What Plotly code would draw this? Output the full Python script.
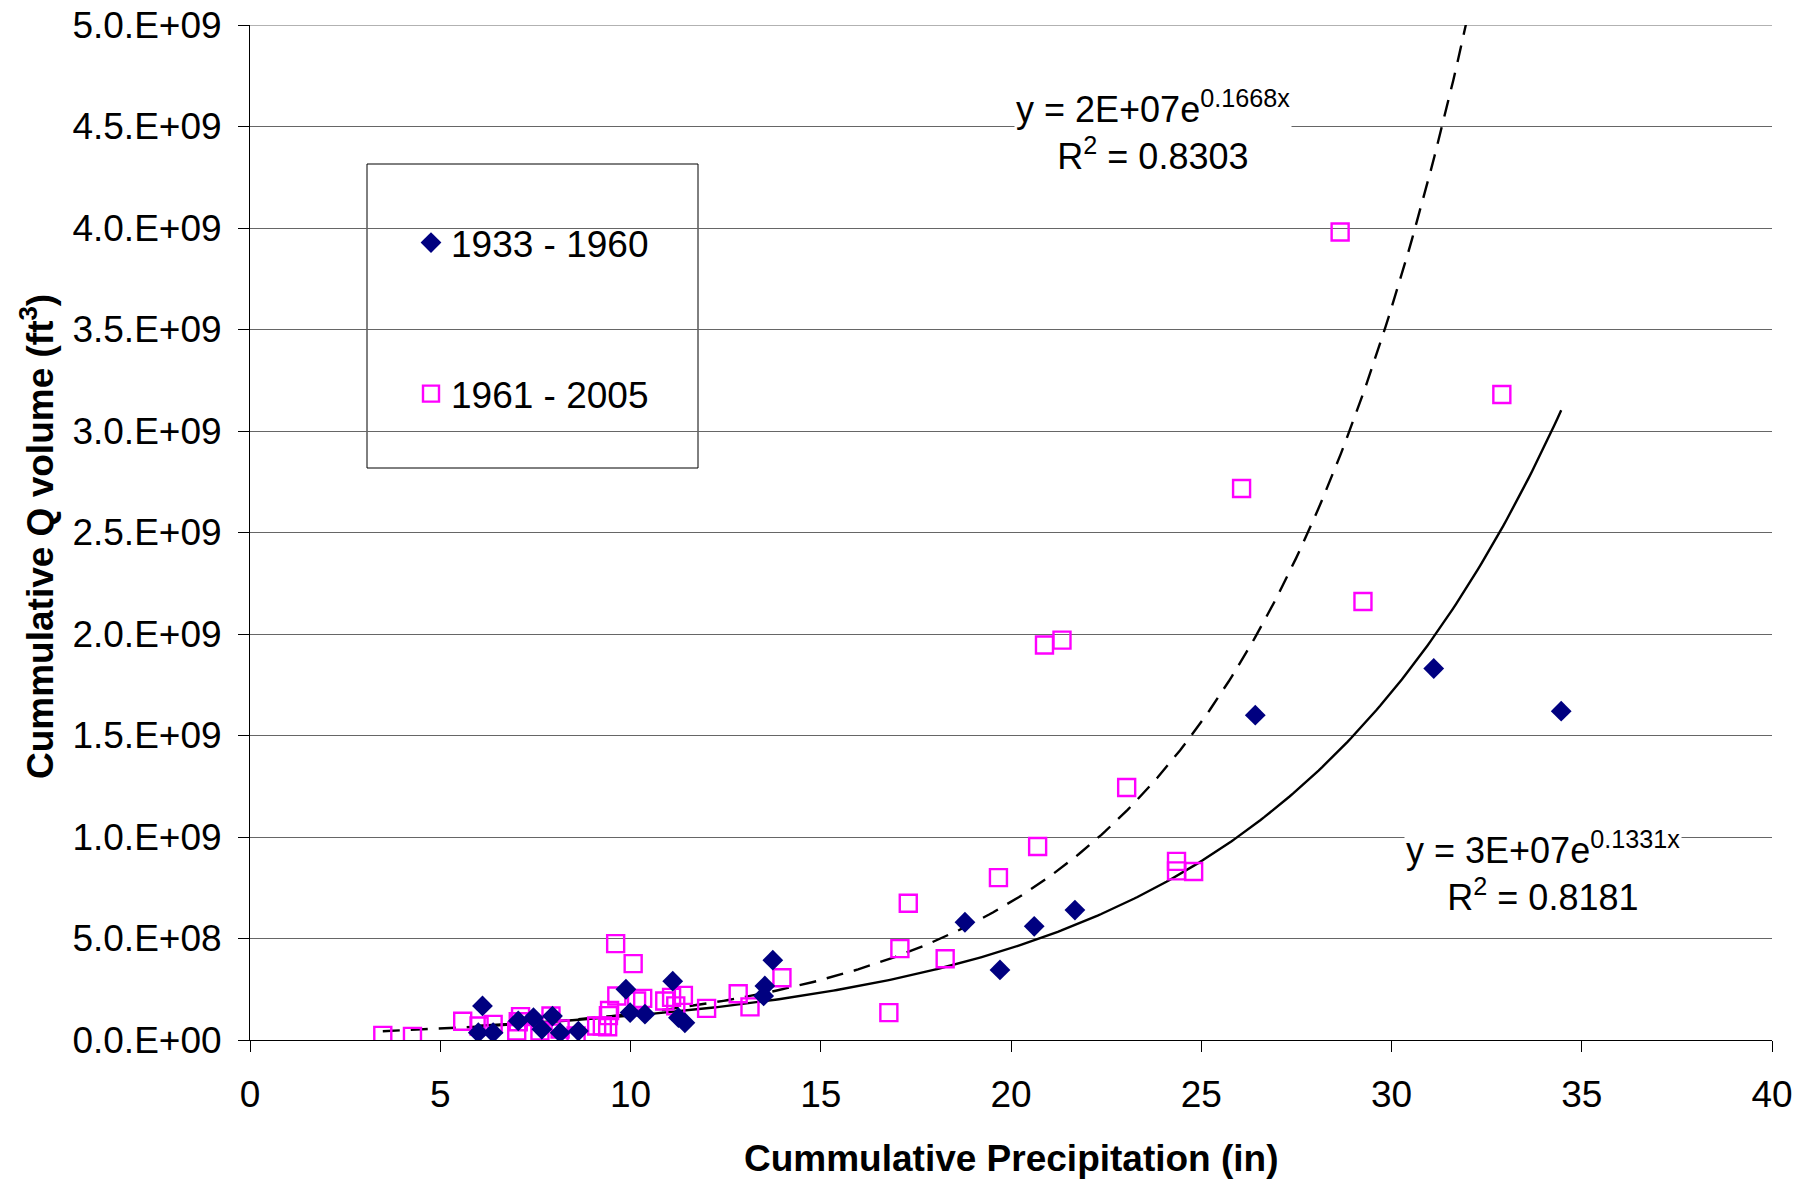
import numpy as np
import plotly.graph_objects as go

# ---------------- data ----------------
x_1933_1960 = [6.11, 6.0, 6.39, 7.05, 7.45, 7.67, 7.95, 8.15, 8.63, 9.88, 9.99, 10.38,
               11.11, 11.26, 11.43, 13.5, 13.53, 13.74, 18.79, 19.71, 20.61, 21.68,
               26.42, 31.11, 34.46]
y_1933_1960 = [1.68e8, 3.6e7, 3.6e7, 9.4e7, 1.1e8, 5.3e7, 1.18e8, 3.6e7, 4.4e7, 2.5e8,
               1.35e8, 1.27e8, 2.9e8, 1.1e8, 8.5e7, 2.17e8, 2.66e8, 3.93e8, 5.8e8,
               3.45e8, 5.6e8, 6.4e8, 1.6e9, 1.83e9, 1.62e9]

x_1961_2005 = [3.49, 4.27, 5.59, 6.02, 6.39, 7.01, 7.11, 7.05, 7.62, 7.91, 8.15, 8.57,
               9.11, 9.26, 9.42, 9.45, 9.40, 9.64, 9.61, 10.07, 10.16, 10.32, 10.9,
               11.08, 11.19, 11.39, 12.0, 12.83, 13.14, 13.98, 16.79, 17.08, 17.3,
               18.27, 19.67, 20.7, 20.88, 21.34, 23.04, 24.35, 24.35, 24.8, 26.06,
               28.65, 29.25, 32.9]
y_1961_2005 = [2.3e7, 1.8e7, 9.2e7, 6.9e7, 7.7e7, 4.4e7, 1.15e8, 9.0e7, 4.4e7, 1.18e8,
               5.4e7, 2.0e7, 6.9e7, 6.9e7, 1.2e8, 1.45e8, 6.5e7, 2.17e8, 4.75e8, 3.76e8,
               1.92e8, 2.05e8, 1.92e8, 2.1e8, 1.68e8, 2.2e8, 1.56e8, 2.28e8, 1.63e8,
               3.07e8, 1.35e8, 4.5e8, 6.74e8, 4.0e8, 8.0e8, 9.53e8, 1.946e9, 1.97e9,
               1.244e9, 8.8e8, 8.33e8, 8.3e8, 2.717e9, 3.98e9, 2.16e9, 3.18e9]

# exponential trend-line parameters (y = a * exp(b x))
trend_a_1961_2005, trend_b_1961_2005 = 2.42e7, 0.1668
trend_a_1933_1960, trend_b_1933_1960 = 3.16e7, 0.1331

y_tick_vals = [0, 5e8, 1e9, 1.5e9, 2e9, 2.5e9, 3e9, 3.5e9, 4e9, 4.5e9, 5e9]
y_tick_text = ["0.0.E+00", "5.0.E+08", "1.0.E+09", "1.5.E+09", "2.0.E+09", "2.5.E+09",
               "3.0.E+09", "3.5.E+09", "4.0.E+09", "4.5.E+09", "5.0.E+09"]
x_tick_vals = [0, 5, 10, 15, 20, 25, 30, 35, 40]

label_1933 = "1933 - 1960"
label_1961 = "1961 - 2005"
eq_1961 = "y = 2E+07e<sup>0.1668x</sup><br>R<sup>2</sup> = 0.8303"
eq_1933 = "y = 3E+07e<sup>0.1331x</sup><br>R<sup>2</sup> = 0.8181"

# ---------------- figure ----------------
FONT = "Arial, Liberation Sans, sans-serif"
fig = go.Figure()

# trend lines
xt2 = np.linspace(min(x_1961_2005), max(x_1961_2005), 300)
fig.add_trace(go.Scatter(x=xt2, y=trend_a_1961_2005 * np.exp(trend_b_1961_2005 * xt2),
                         mode="lines", line=dict(color="black", width=2.4, dash="17px,11px"),
                         showlegend=False, hoverinfo="skip"))
xt1 = np.linspace(min(x_1933_1960), max(x_1933_1960), 300)
fig.add_trace(go.Scatter(x=xt1, y=trend_a_1933_1960 * np.exp(trend_b_1933_1960 * xt1),
                         mode="lines", line=dict(color="black", width=2.4),
                         showlegend=False, hoverinfo="skip"))

fig.add_trace(go.Scatter(x=x_1961_2005, y=y_1961_2005, mode="markers", name=label_1961,
                         legendgroup="b", legendrank=2,
                         marker=dict(symbol="square-open", size=17, color="#FF00FF",
                                     line=dict(width=2.4, color="#FF00FF"))))
fig.add_trace(go.Scatter(x=x_1933_1960, y=y_1933_1960, mode="markers", name=label_1933,
                         legendgroup="a", legendrank=1,
                         marker=dict(symbol="diamond", size=16, color="#000080",
                                     line=dict(width=0))))

W, H = 1816, 1180
# plot area in page pixels
SX0, SX1, SY0, SY1 = 250, 1772, 25, 1040
L, R = SX0, W - SX1
T, B = SY0, H - SY1
pw, ph = W - L - R, H - T - B

def px_x(p):
    return (p - L) / pw

def px_y(p):
    return 1 - (p - T) / ph

fig.update_layout(
    width=W, height=H,
    margin=dict(l=L, r=R, t=T, b=B, autoexpand=False),
    paper_bgcolor="white", plot_bgcolor="white",
    font=dict(family=FONT, size=36, color="black"),
    showlegend=True,
    legend=dict(x=px_x(411), y=px_y(212), xanchor="left", yanchor="top",
                bgcolor="rgba(0,0,0,0)", borderwidth=0,
                font=dict(family=FONT, size=37, color="black"),
                tracegroupgap=100, traceorder="grouped"),
    xaxis=dict(range=[0, 40], tickvals=x_tick_vals, showgrid=False, zeroline=False,
               showline=True, linecolor="black", linewidth=1,
               ticks="outside", ticklen=11, tickcolor="black",
               ticklabelstandoff=11, automargin=False, ticklabeloverflow="allow",
               tickfont=dict(family=FONT, size=37)),
    yaxis=dict(range=[0, 5e9], tickvals=y_tick_vals, ticktext=y_tick_text,
               showgrid=True, gridcolor="#666666", gridwidth=1, zeroline=False,
               showline=True, linecolor="black", linewidth=1,
               ticks="outside", ticklen=11, tickcolor="black",
               ticklabelstandoff=9, automargin=False, ticklabeloverflow="allow",
               tickfont=dict(family=FONT, size=37)),
    shapes=[dict(type="rect", xref="paper", yref="paper",
                 x0=px_x(367), x1=px_x(698), y0=px_y(468), y1=px_y(164),
                 line=dict(color="black", width=1), fillcolor="white", layer="below"),
            dict(type="line", xref="paper", yref="y", x0=0, x1=1, y0=5e9, y1=5e9,
                 line=dict(color="#666666", width=1), layer="below")],
    annotations=[
        dict(text=eq_1961, x=23.73, y=4.48e9, xref="x", yref="y", showarrow=False,
             xanchor="center", yanchor="middle", align="center", bgcolor="white",
             font=dict(family=FONT, size=36)),
        dict(text=eq_1933, x=33.98, y=8.3e8, xref="x", yref="y", showarrow=False,
             xanchor="center", yanchor="middle", align="center", bgcolor="white",
             font=dict(family=FONT, size=36)),
        dict(text="<b>Cummulative Precipitation (in)</b>", x=0.5, y=px_y(1158),
             xref="paper", yref="paper", showarrow=False, xanchor="center",
             yanchor="middle", font=dict(family=FONT, size=37)),
        dict(text="<b>Cummulative Q volume (ft<sup>3</sup>)</b>", x=px_x(37), y=px_y(537),
             xref="paper", yref="paper", showarrow=False, xanchor="center",
             yanchor="middle", textangle=-90, font=dict(family=FONT, size=37)),
    ],
)

fig.write_html("out.html",
               config={"displayModeBar": False},
               post_script="document.body.style.margin='0';"
                           "document.body.style.overflow='hidden';")
